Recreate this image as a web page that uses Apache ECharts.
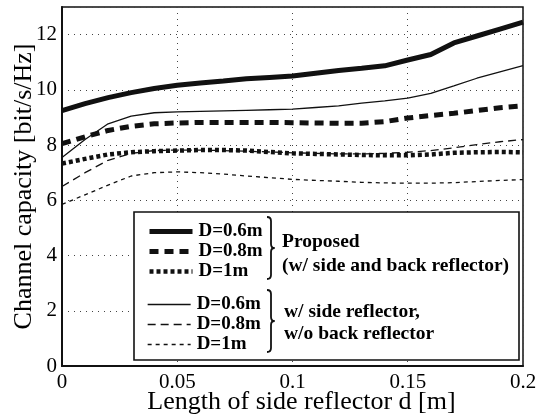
<!DOCTYPE html>
<html>
<head>
<meta charset="utf-8">
<script src="https://cdn.jsdelivr.net/npm/echarts@6/dist/echarts.min.js"></script>
<style>
  html, body { margin: 0; padding: 0; background: #fff; }
  #chart { width: 537px; height: 414px; }
</style>
</head>
<body>
<div id="chart"></div>
<script>
// Side reflector length d [m]
const dValues = [0, 0.01, 0.02, 0.03, 0.04, 0.05, 0.06, 0.07, 0.08, 0.09, 0.1,
  0.11, 0.12, 0.13, 0.14, 0.15, 0.16, 0.17, 0.18, 0.19, 0.2];

// Proposed (w/ side and back reflector)
const propD06 = [9.25, 9.5, 9.72, 9.9, 10.05, 10.17, 10.25, 10.32, 10.4, 10.45, 10.5,
  10.6, 10.7, 10.78, 10.87, 11.08, 11.28, 11.7, 11.95, 12.2, 12.45];
const propD08 = [8.05, 8.3, 8.53, 8.68, 8.77, 8.8, 8.82, 8.82, 8.82, 8.82, 8.81,
  8.8, 8.79, 8.79, 8.85, 8.98, 9.07, 9.15, 9.25, 9.35, 9.42];
const propD1 = [7.33, 7.5, 7.66, 7.74, 7.78, 7.8, 7.82, 7.82, 7.8, 7.75, 7.7,
  7.68, 7.66, 7.64, 7.63, 7.63, 7.66, 7.72, 7.74, 7.75, 7.74];

// w/ side reflector, w/o back reflector
const sideD06 = [7.55, 8.2, 8.77, 9.05, 9.17, 9.2, 9.22, 9.24, 9.26, 9.28, 9.3,
  9.36, 9.42, 9.52, 9.6, 9.7, 9.87, 10.14, 10.42, 10.65, 10.88];
const sideD08 = [6.5, 7.0, 7.45, 7.7, 7.8, 7.82, 7.82, 7.8, 7.78, 7.75, 7.72,
  7.7, 7.68, 7.68, 7.7, 7.74, 7.8, 7.9, 8.02, 8.12, 8.2];
const sideD1 = [5.85, 6.2, 6.55, 6.88, 7.0, 7.03, 7.0, 6.95, 6.88, 6.82, 6.76,
  6.72, 6.69, 6.65, 6.63, 6.62, 6.62, 6.64, 6.68, 6.72, 6.75];

const xTicks = [0, 0.05, 0.1, 0.15, 0.2];
const yTicks = [0, 2, 4, 6, 8, 10, 12];

const INK = '#111';
const SERIF = '"Liberation Serif", "Times New Roman", serif';

const pairs = (ys) => dValues.map((d, i) => [d, ys[i]]);

// name, values, line width, dash
const seriesDefs = [
  ['P D=0.6m', propD06, 5, 'solid'],
  ['P D=0.8m', propD08, 5, [9, 6]],
  ['P D=1m', propD1, 4.5, [4, 3]],
  ['S D=0.6m', sideD06, 1.3, 'solid'],
  ['S D=0.8m', sideD08, 1.3, [8, 5]],
  ['S D=1m', sideD1, 1.3, [4, 4]],
];

const series = seriesDefs.map(([name, ys, w, dash]) => ({
  name,
  type: 'line',
  data: pairs(ys),
  symbol: 'none',
  silent: true,
  animation: false,
  color: INK,
  lineStyle: { color: INK, width: w, type: dash },
}));

// legend icons: only the line, the default marker is hidden
const legendItem = (i) => ({
  name: seriesDefs[i][0],
  itemStyle: { opacity: 0 },
  lineStyle: { width: seriesDefs[i][2], type: seriesDefs[i][3], color: INK, opacity: 1 },
});

const legendBase = {
  orient: 'vertical',
  left: 142,
  itemWidth: 43,
  itemHeight: 14,
  itemGap: 1,
  selectedMode: false,
  formatter: (n) => n.split(' ')[1],
  textStyle: {
    fontFamily: SERIF, fontWeight: 'bold', fontSize: 19, color: '#000',
    lineHeight: 19, padding: [0, 0, 0, 1],
  },
  z: 6,
};

// curly brace from lines and quadratic curves
const braceStyle = { stroke: INK, lineWidth: 1.8, fill: null };
const brace = (x, top, bottom) => {
  const mid = (top + bottom) / 2;
  const s = x + 4, tip = x + 7.5;
  const curve = (x1, y1, cx, cy, x2, y2) => ({
    type: 'bezierCurve', z: 7,
    shape: { x1, y1, x2, y2, cpx1: cx, cpy1: cy },
    style: braceStyle,
  });
  const line = (x1, y1, x2, y2) => ({
    type: 'line', z: 7, shape: { x1, y1, x2, y2 }, style: braceStyle,
  });
  return [
    curve(x, top, s, top, s, top + 4),
    line(s, top + 4, s, mid - 4),
    curve(s, mid - 4, s, mid, tip, mid),
    curve(tip, mid, s, mid, s, mid + 4),
    line(s, mid + 4, s, bottom - 4),
    curve(s, bottom - 4, s, bottom, x, bottom),
  ];
};

const noteText = (x, y, text) => ({
  type: 'text', x, y, z: 7,
  style: {
    text, fill: '#000', font: `bold 19.5px ${SERIF}`,
    textVerticalAlign: 'middle',
  },
});

const chart = echarts.init(document.getElementById('chart'), null, { renderer: 'canvas' });
chart.setOption({
  backgroundColor: '#fff',
  animation: false,
  grid: {
    left: 62, right: 14, top: 7, bottom: 48,
    outerBoundsMode: 'none',
    containLabel: false,
    show: true, borderColor: INK, borderWidth: 1.5,
  },
  xAxis: {
    type: 'value', min: 0, max: 0.2, interval: 0.05,
    name: 'Length of side reflector d [m]',
    nameLocation: 'middle', nameGap: 23, nameMoveOverlap: false,
    nameTextStyle: { fontFamily: SERIF, fontSize: 26, color: '#000', padding: [0, 0, 0, 18] },
    axisLine: { lineStyle: { color: INK, width: 2 } },
    axisTick: { show: false },
    axisLabel: {
      fontFamily: SERIF, fontSize: 21, color: '#000', margin: 6,
      formatter: (v) => (xTicks.some((t) => Math.abs(t - v) < 1e-9) ? String(+v.toFixed(2)) : ''),
    },
    splitLine: { show: true, lineStyle: { color: '#444', width: 1, type: [1, 5] } },
  },
  yAxis: {
    type: 'value', min: 0, max: 13, interval: 2,
    name: 'Channel capacity [bit/s/Hz]',
    nameLocation: 'middle', nameGap: 25, nameMoveOverlap: false,
    nameTextStyle: { fontFamily: SERIF, fontSize: 26, color: '#000' },
    axisLine: { lineStyle: { color: INK, width: 2 } },
    axisTick: { show: false },
    axisLabel: {
      fontFamily: SERIF, fontSize: 21, color: '#000', margin: 5,
      formatter: (v) => (yTicks.includes(v) ? String(v) : ''),
    },
    splitLine: { show: true, lineStyle: { color: '#444', width: 1, type: [1, 5] } },
  },
  legend: [
    Object.assign({}, legendBase, { top: 217, data: [0, 1, 2].map(legendItem) }),
    Object.assign({}, legendBase, { top: 290, data: [3, 4, 5].map(legendItem) }),
  ],
  graphic: [
    {
      type: 'rect', z: 5,
      shape: { x: 134, y: 212, width: 385, height: 148 },
      style: { fill: '#fff', stroke: INK, lineWidth: 1.6 },
    },
    ...brace(267, 217, 279),
    ...brace(267, 290, 352),
    noteText(282, 241.5, 'Proposed'),
    noteText(282, 265.5, '(w/ side and back reflector)'),
    noteText(284, 311.5, 'w/ side reflector,'),
    noteText(284, 333.5, 'w/o back reflector'),
  ],
  series,
});
</script>
</body>
</html>
